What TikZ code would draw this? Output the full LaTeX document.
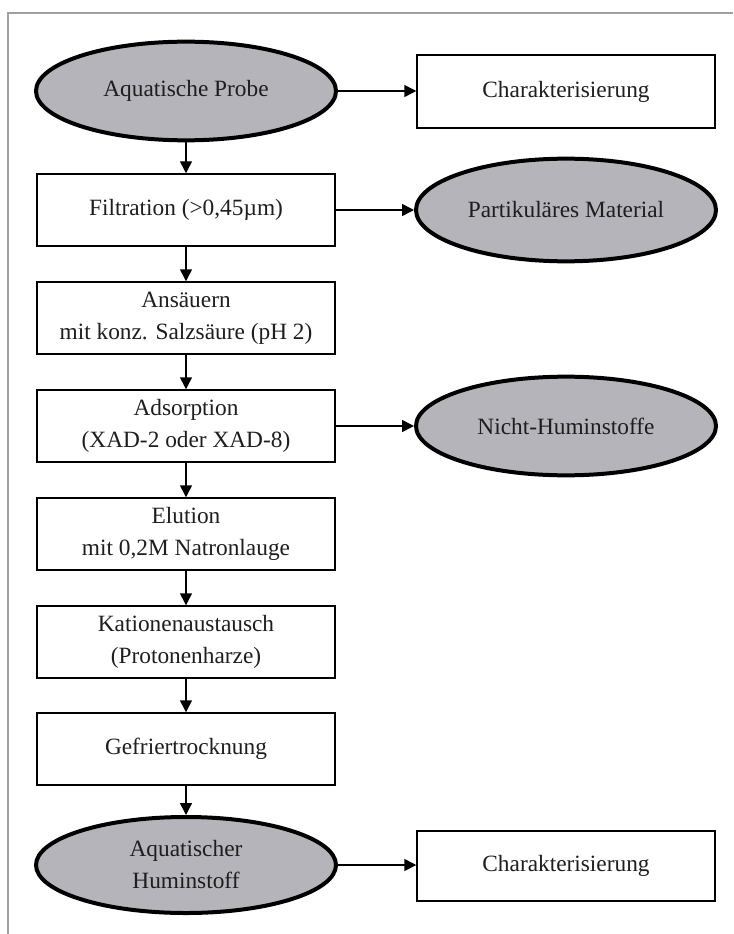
\documentclass[tikz,border=0pt]{standalone}
\usepackage{fontspec}
\setmainfont{Liberation Serif}
\usetikzlibrary{shapes.geometric,arrows.meta}
\definecolor{ellfill}{RGB}{180,180,186}
\definecolor{framegray}{RGB}{160,160,160}
\definecolor{txt}{RGB}{30,30,30}
\begin{document}
\begin{tikzpicture}[x=0.75pt,y=-0.75pt,
  every node/.style={font=\fontsize{17.5}{24}\selectfont, text=txt, align=center},
  procbox/.style={draw=black, line width=1.1pt, rectangle, minimum width=223.5pt, minimum height=54pt, inner sep=0pt, fill=white},
  result/.style={draw=black, ellipse, line width=3pt, fill=ellfill, minimum width=225pt, minimum height=74pt, inner sep=0pt},
  flow/.style={line width=1.1pt, -{Triangle[length=9pt,width=9pt]}}
]
\useasboundingbox (0,0) rectangle (733,934);
% frame
\coordinate (fb) at (8,934);
\coordinate (fc) at (8,13);
\coordinate (fr) at (733,13);
\draw[framegray, line width=1.5pt] (fb) -- (fc) -- (fr);

% left column
\node[result] (e1) at (186,91) {Aquatische Probe};
\node[procbox] (f) at (186,210) {Filtration (>0,45µm)};
\node[procbox] (a) at (186,318) {Ansäuern\\mit konz. Salzsäure (pH 2)};
\node[procbox] (ad) at (186,426) {Adsorption\\(XAD-2 oder XAD-8)};
\node[procbox] (el) at (186,534) {Elution\\mit 0,2M Natronlauge};
\node[procbox] (k) at (186,642) {Kationenaustausch\\(Protonenharze)};
\node[procbox] (g) at (186,749) {Gefriertrocknung};
\node[result, minimum height=72pt] (e2) at (186,865) {Aquatischer\\Huminstoff};

% right column
\node[procbox, minimum height=55pt] (c1) at (566,91.5) {Charakterisierung};
\node[result, minimum height=77pt] (p) at (566,210) {Partikuläres Material};
\node[result] (n) at (566,426) {Nicht-Huminstoffe};
\node[procbox, minimum height=52.5pt] (c2) at (566,866) {Charakterisierung};

% vertical flow
\draw[flow] (e1) -- (f);
\draw[flow] (f) -- (a);
\draw[flow] (a) -- (ad);
\draw[flow] (ad) -- (el);
\draw[flow] (el) -- (k);
\draw[flow] (k) -- (g);
\draw[flow] (g) -- (e2);

% horizontal flow
\draw[flow] (e1.east) -- (c1.west |- e1.east);
\draw[flow] (f.east) -- (p.west);
\draw[flow] (ad.east) -- (n.west);
\draw[flow] (e2.east) -- (c2.west |- e2.east);
\end{tikzpicture}
\end{document}
